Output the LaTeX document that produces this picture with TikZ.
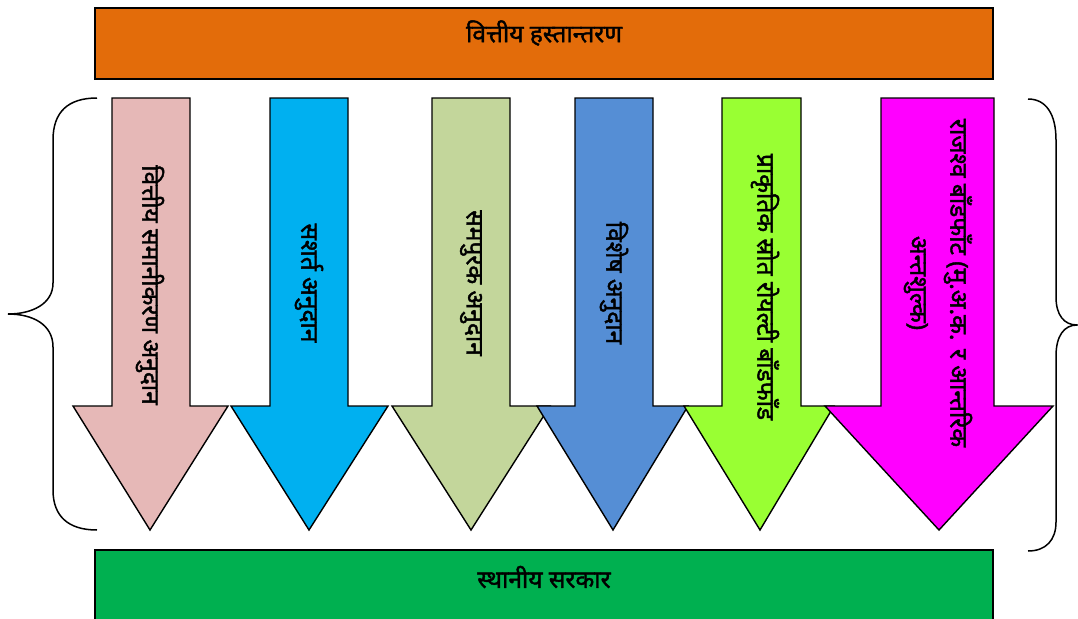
\documentclass[tikz,border=0pt]{standalone}
\usepackage{fontspec}
\newfontfamily\devfont[Script=Devanagari, FakeBold=1.6]{Noto Sans}
\usetikzlibrary{calc}

\definecolor{transorange}{RGB}{227,108,10}
\definecolor{localgreen}{RGB}{0,176,80}
\definecolor{eqpink}{RGB}{230,184,183}
\definecolor{condcyan}{RGB}{0,176,240}
\definecolor{suppolive}{RGB}{195,214,155}
\definecolor{specblue}{RGB}{85,142,213}
\definecolor{natlime}{RGB}{153,255,51}
\definecolor{revmagenta}{RGB}{255,0,255}

\begin{document}
\begin{tikzpicture}[
    x=1pt, y=-1pt,
    bar box/.style={draw=black, line width=1.2pt},
    grant arrow/.style={draw=black, line width=1.4pt, line join=miter},
    brace line/.style={line width=1.5pt},
    bar text/.style={font=\devfont\fontsize{24.5}{28}\selectfont},
    grant text/.style={rotate=-90, align=center, font=\devfont\fontsize{24.5}{40}\selectfont},
    ]
    \useasboundingbox (0,0) rectangle (1078,618);

    % top and bottom bars
    \filldraw[bar box, fill=transorange] (95,8) rectangle (993,79);
    \node[bar text] (transfer) at (544,33) {वित्तीय हस्तान्तरण};
    \filldraw[bar box, fill=localgreen] (95,550) rectangle (993,630);
    \node[bar text] (localgov) at (544,577) {स्थानीय सरकार};

    % grant arrows
    \foreach \xa/\xb/\xc/\xd/\xt/\col in {112/190/73/228/150/eqpink,
        270/348/231/388/309/condcyan, 432/510/392/550/471/suppolive,
        575/653/537/688/613/specblue, 722/801/684/834/760/natlime,
        881/994/825/1053/939/revmagenta}
        \filldraw[grant arrow, fill=\col] (\xa,98) -- (\xb,98) -- (\xb,406)
            -- (\xd,406) -- (\xt,530) -- (\xc,406) -- (\xa,406) -- cycle;

    % arrow labels
    \node[grant text] (equal) at (150,285) {वित्तीय समानीकरण अनुदान};
    \node[grant text] (cond) at (309,283) {सशर्त अनुदान};
    \node[grant text] (supp) at (471,283) {समपुरक अनुदान};
    \node[grant text] (spec) at (614,283) {विशेष अनुदान};
    \node[grant text] (natural) at (765,287) {प्राकृतिक स्रोत रोयल्टी बाँडफाँड};
    \node[grant text] (revenue) at (938,283) {राजश्व बाँडफाँट (मु.अ.क. र आन्तरिक\\अन्तशुल्क)};

    % curly brackets
    \draw[brace line] (97,98) .. controls (68,98) and (53,112) .. (53,140)
        -- (53,283) .. controls (53,304) and (32,314) .. (8,314)
        .. controls (32,314) and (53,324) .. (53,347)
        -- (53,490) .. controls (53,516) and (68,530) .. (97,530);
    \draw[brace line] (1028,99) .. controls (1046,99) and (1056,114) .. (1056,140)
        -- (1056,297) .. controls (1056,315) and (1064,325) .. (1077,325)
        .. controls (1064,325) and (1056,336) .. (1056,356)
        -- (1056,522) .. controls (1056,540) and (1046,551) .. (1028,551);
\end{tikzpicture}
\end{document}
